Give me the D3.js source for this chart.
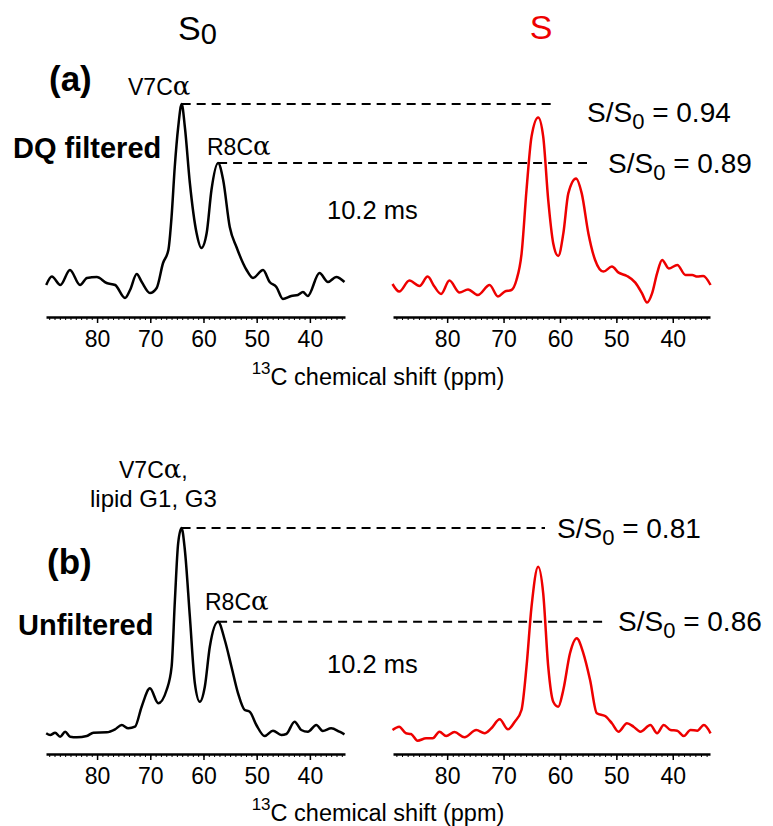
<!DOCTYPE html>
<html>
<head>
<meta charset="utf-8">
<script src="https://cdn.jsdelivr.net/npm/d3@7"></script>
<style>
  body { margin: 0; background: #fff; }
  svg { display: block; }
  text { font-family: "Liberation Sans", Arial, sans-serif; fill: #000; }
</style>
</head>
<body>
<svg width="773" height="826"></svg>
<script>
// axis
var ppmDomain = [89.6, 33.4];
var majorTicks = [80, 70, 60, 50, 40];
var minorTicks = d3.range(34, 90, 1);

// (a) DQ filtered, S0 (black)
var dqS0Ppm = [89.56, 88.5, 86.9, 85.1, 83.2, 81.9, 80.05, 78.2, 76.6, 74.75, 73.8, 72.55, 71.6, 70.06, 68.8, 67.6, 66.6, 66.0, 65.4, 64.75, 64.1, 63.5, 62.56, 61.3, 60.4, 59.4, 58.5, 57.25, 56.3, 55.06, 53.8, 51.9, 50.7, 48.8, 47.56, 46.3, 45.07, 43.5, 42.25, 41.3, 40.4, 38.2, 36.6, 35.05, 33.5];
var dqS0Int = [7.5, 11.7, 7.5, 15, 7.5, 11, 11.5, 8.5, 7.5, 1, 5, 13, 9, 3.5, 6, 18.5, 25, 41.5, 66.5, 86.5, 98, 86.5, 58.5, 33.5, 26, 33.5, 55, 68.5, 60, 36.5, 26.5, 15, 11, 15, 9, 6.5, 0.5, 2, 2.5, 4, 2, 13.5, 9, 11.5, 9];

// (a) DQ filtered, S (red)
var dqSPpm = [89.69, 88.5, 86.7, 84.9, 83.45, 82.26, 81.07, 79.6, 77.8, 76.3, 74.55, 72.47, 70.99, 69.8, 68.6, 67.71, 66.8, 65.93, 65.04, 63.86, 62.97, 62.08, 61.19, 60.3, 59.4, 58.52, 57.15, 56.14, 54.96, 53.77, 52.29, 50.79, 49.6, 48.12, 46.64, 45.45, 44.56, 43.67, 42.78, 41.89, 40.7, 39.2, 37.74, 36.55, 35.65, 34.6, 33.3];
var dqSInt = [8, 4.2, 9.7, 7, 11.7, 6.7, 3, 9.7, 3.7, 5.3, 2.5, 7.5, 1.7, 4.2, 5, 10, 23.3, 55, 81.7, 91.3, 81.7, 50, 28.3, 22, 33.3, 53.3, 60.8, 53.3, 33.3, 20, 14.2, 16.7, 13.7, 12, 8.7, 3.3, -1.3, 3.3, 13.3, 20, 15.8, 17.5, 12.5, 12.5, 11.7, 12, 7.5];

// (b) unfiltered, S0 (black)
var unS0Ppm = [89.56, 88.81, 87.88, 86.94, 86.0, 85.06, 83.81, 81.93, 80.69, 78.18, 76.62, 75.37, 74.13, 72.87, 71.62, 70.06, 68.5, 66.93, 65.99, 65.37, 64.76, 64.12, 63.5, 62.56, 61.62, 60.69, 59.75, 58.81, 57.25, 56.0, 54.74, 53.5, 52.25, 51.31, 50.06, 48.5, 46.94, 45.37, 44.43, 42.87, 41.62, 40.38, 38.8, 37.57, 36.0, 34.44, 33.5];
var unS0Int = [3.35, 2.5, 3.65, 1.65, 4.15, 1.65, 1.35, 2, 3.65, 3.85, 5.35, 7.5, 5.85, 6.65, 16.65, 25.85, 18.35, 25, 36.65, 70, 98.35, 106, 95, 61.65, 28.35, 19.15, 26.65, 46.65, 59.15, 50, 36.65, 23.35, 15, 14.15, 7.5, 2, 4.65, 2.5, 3, 9.15, 5, 4.15, 7.5, 4.5, 5.85, 4.15, 2.85];

// (b) unfiltered, S (red)
var unSPpm = [89.69, 88.5, 87.3, 86.41, 85.24, 83.74, 82.56, 81.37, 80.18, 78.7, 76.92, 74.84, 73.36, 72.16, 70.69, 69.21, 68.01, 66.82, 65.93, 65.04, 63.86, 62.97, 62.08, 61.19, 60.3, 59.41, 58.22, 57.03, 55.85, 54.66, 53.46, 51.99, 50.79, 49.62, 48.12, 46.95, 45.75, 43.97, 42.78, 41.6, 40.41, 39.22, 38.04, 36.85, 35.65, 34.48, 33.3];
var unSInt = [5, 6.65, 3.35, 3, -0.35, 0.85, 0.85, 4.15, 2, 4, 1.35, 5, 3.35, 5.85, 10.35, 5.35, 9.15, 15, 36.65, 66.65, 86.65, 73.35, 36.65, 19.15, 16.65, 25, 43.35, 50.85, 43.35, 30, 13.35, 12, 8.35, 4.15, 8.35, 6.65, 4.15, 7.5, 3.35, 7.5, 5, 4.65, 2, 5, 4.65, 7.5, 3.35];

// ratio labels
var ratioLabels = [["0.94", "0.89"], ["0.81", "0.86"]];

var svg = d3.select("svg");
svg.append("rect").attr("width", 773).attr("height", 826).attr("fill", "#fff");

var xLeft = d3.scaleLinear().domain(ppmDomain).range([46, 345]);
var xRight = d3.scaleLinear().domain(ppmDomain).range([393, 710]);

var rows = [
  { y: d3.scaleLinear().domain([0, 100]).range([300, 100]), axisY: 317,
    s0: [dqS0Ppm, dqS0Int], s: [dqSPpm, dqSInt] },
  { y: d3.scaleLinear().domain([0, 100]).range([740, 540]), axisY: 754,
    s0: [unS0Ppm, unS0Int], s: [unSPpm, unSInt] }
];

function toPoints(pair) {
  return pair[0].map(function(p, i) { return { ppm: p, v: pair[1][i] }; });
}

function drawAxis(x, yPos) {
  var minor = svg.append("g").attr("transform", "translate(0," + yPos + ")")
    .call(d3.axisBottom(x).tickValues(minorTicks).tickSize(3).tickFormat("").tickSizeOuter(0));
  minor.select(".domain").remove();
  minor.selectAll("line").attr("stroke-width", 1);

  var major = svg.append("g").attr("transform", "translate(0," + yPos + ")")
    .call(d3.axisBottom(x).tickValues(majorTicks).tickSize(6).tickPadding(8).tickSizeOuter(0));
  major.select(".domain").attr("stroke-width", 2.5);
  major.selectAll("line").attr("stroke-width", 1.5);
  major.selectAll("text")
    .style("font-family", "'Liberation Sans', Arial, sans-serif")
    .attr("font-size", 23).attr("fill", "#000");
}

rows.forEach(function(row, ri) {
  var line = function(x) {
    return d3.line().x(function(d) { return x(d.ppm); }).y(function(d) { return row.y(d.v); })
      .curve(d3.curveMonotoneX);
  };
  var s0 = toPoints(row.s0), s = toPoints(row.s);

  drawAxis(xLeft, row.axisY);
  drawAxis(xRight, row.axisY);

  // dashed reference lines from the two S0 peaks
  var main = d3.greatest(s0, function(d) { return d.v; });
  var second = d3.greatest(s0.filter(function(d) { return d.ppm < 60; }), function(d) { return d.v; });
  var ends = ri === 0 ? [551, 587] : [545, 608];
  [main, second].forEach(function(pk, k) {
    svg.append("line")
      .attr("x1", xLeft(pk.ppm)).attr("x2", ends[k])
      .attr("y1", row.y(pk.v)).attr("y2", row.y(pk.v))
      .attr("stroke", "#000").attr("stroke-width", 2)
      .attr("stroke-dasharray", "9,6");
  });

  svg.append("path").datum(s0).attr("d", line(xLeft))
    .attr("fill", "none").attr("stroke", "#000").attr("stroke-width", 2.5);
  svg.append("path").datum(s).attr("d", line(xRight))
    .attr("fill", "none").attr("stroke", "#ee0000").attr("stroke-width", 2.5);

  // axis title
  var t = svg.append("text").attr("x", 378).attr("y", ri === 0 ? 382 : 818)
    .attr("text-anchor", "middle").attr("font-size", 23.5);
  t.append("tspan").attr("font-size", 17).attr("dy", "-0.45em").text("13");
  t.append("tspan").attr("dy", "0.45em").text("C chemical shift (ppm)");

  // S/S0 ratio labels
  var labelPos = ri === 0 ? [[587, 122], [608, 173]] : [[557, 538], [618, 631]];
  labelPos.forEach(function(p, k) {
    var r = svg.append("text").attr("x", p[0]).attr("y", p[1]).attr("font-size", 28);
    r.append("tspan").text("S/S");
    r.append("tspan").attr("font-size", 22).attr("dy", 7).text("0");
    r.append("tspan").attr("dy", -7).text(" = " + ratioLabels[ri][k]);
  });

  svg.append("text").attr("x", 327).attr("y", ri === 0 ? 219 : 673)
    .attr("font-size", 25.5).text("10.2 ms");
});

// column titles
var s0t = svg.append("text").attr("x", 178).attr("y", 40).attr("font-size", 34);
s0t.append("tspan").text("S");
s0t.append("tspan").attr("font-size", 29).attr("dy", 4).text("0");
svg.append("text").attr("x", 541).attr("y", 39).attr("text-anchor", "middle")
  .attr("font-size", 34).style("fill", "#ee0000").text("S");

// panel letters and side labels
svg.append("text").attr("x", 49).attr("y", 91).attr("font-size", 35).attr("font-weight", "bold").text("(a)");
svg.append("text").attr("x", 13).attr("y", 158).attr("font-size", 29).attr("font-weight", "bold").text("DQ filtered");
svg.append("text").attr("x", 47).attr("y", 574).attr("font-size", 35).attr("font-weight", "bold").text("(b)");
svg.append("text").attr("x", 18).attr("y", 635).attr("font-size", 29).attr("font-weight", "bold").text("Unfiltered");

// peak labels
function alphaLabel(x, y, pre, post) {
  var t = svg.append("text").attr("x", x).attr("y", y).attr("font-size", 23);
  t.append("tspan").text(pre);
  t.append("tspan").style("font-family", "'DejaVu Serif', serif").attr("font-size", 26).text("\u03b1");
  if (post) t.append("tspan").text(post);
  return t;
}
alphaLabel(128, 95, "V7C");
alphaLabel(207, 155, "R8C");
alphaLabel(119, 478, "V7C", ",");
svg.append("text").attr("x", 90).attr("y", 507).attr("font-size", 24).text("lipid G1, G3");
alphaLabel(205, 610, "R8C");
</script>
</body>
</html>
